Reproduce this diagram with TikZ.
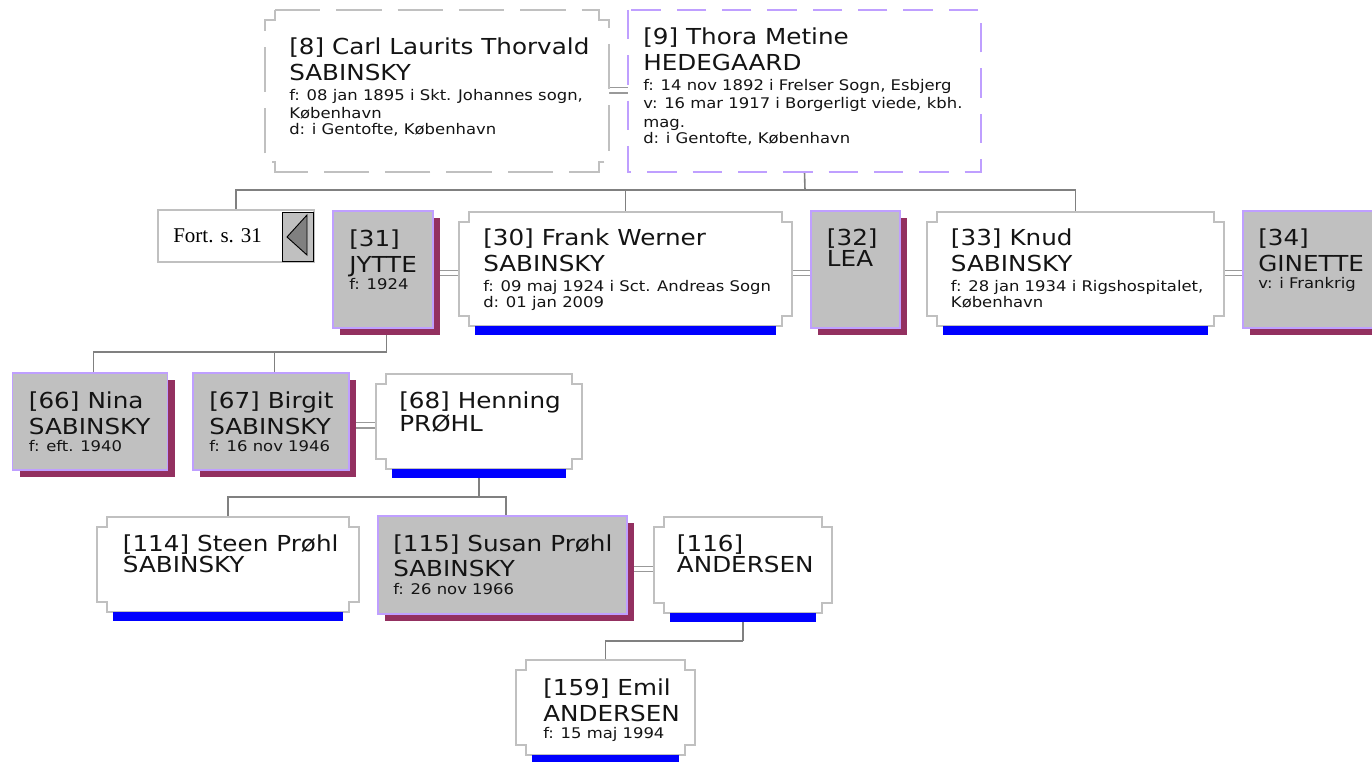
\documentclass[tikz,border=0pt]{standalone}
\usepackage{fontspec}
\usetikzlibrary{calc,fit}
\newfontfamily\pf[FakeStretch=1.12]{DejaVu Sans}
\newfontfamily\fortfont{Liberation Serif}
\newcommand\pbig{\pf\fontsize{16.5pt}{18.9pt}\selectfont\spaceskip=6pt\relax}
\newcommand\psmall{\pf\fontsize{11pt}{14pt}\selectfont\spaceskip=0pt\relax}
\definecolor{txt}{HTML}{141414}
\definecolor{bordergray}{HTML}{C0C0C0}
\definecolor{lav}{HTML}{BF9FFF}
\definecolor{fillgray}{HTML}{C0C0C0}
\definecolor{shadowc}{HTML}{933060}
\definecolor{conngray}{HTML}{808080}
\definecolor{marrgray}{HTML}{999999}
\definecolor{barblue}{HTML}{0000FF}
\definecolor{trigray}{HTML}{808080}
\tikzset{
  area/.style={inner sep=0pt, outer sep=0pt},
  ptext/.style={anchor=base west, inner sep=0pt, text width=330pt, align=left, text=txt},
  conn/.style={draw=conngray, line width=1.2pt},
  marr/.style={draw=marrgray, line width=0.8pt, double=white, double distance=3pt},
  notchline/.style={draw=bordergray, line width=1pt, fill=white},
  graybox/.style={draw=lav, line width=0.9pt, fill=fillgray},
}
\newcommand\notchshape[2]{\path[#2] ($(#1.north west)+(10,0)$) -- ($(#1.north east)+(-10,0)$) -- ++(0,10) -- ++(10,0) -- ($(#1.south east)+(0,-10)$) -- ++(-10,0) -- ++(0,10) -- ($(#1.south west)+(10,0)$) -- ++(0,-10) -- ++(-10,0) -- ($(#1.north west)+(0,10)$) -- ++(10,0) -- cycle;}
\newcommand\shadowedbox[1]{\fill[shadowc] ($(#1.north west)+(7,7)$) rectangle ($(#1.south east)+(7,7)$);
  \path[graybox] (#1.north west) rectangle (#1.south east);}
\newcommand\bluebar[1]{\fill[barblue] ($(#1.south west)+(16,0)$) rectangle ($(#1.south east)+(-16,9)$);}
\begin{document}
\begin{tikzpicture}[x=0.75pt,y=-0.75pt]
\useasboundingbox[fill=white] (0,0) rectangle (1372,762);
% areas of the persons
\node[area, fit={(265,10)(609,172)}] (p8) {};
\node[area, fit={(628,10)(981,172)}] (p9) {};
\node[area, fit={(158,210)(314,262)}] (fort) {};
\node[area, fit={(282,212)(313,261)}] (fortbtn) {};
\node[area, fit={(333,211)(433,328)}] (p31) {};
\node[area, fit={(459,212)(792,326)}] (p30) {};
\node[area, fit={(811,211)(900,328)}] (p32) {};
\node[area, fit={(927,212)(1224,326)}] (p33) {};
\node[area, fit={(1243,211)(1390,328)}] (p34) {};
\node[area, fit={(12.6,373)(167.6,470)}] (p66) {};
\node[area, fit={(193,373)(349,470)}] (p67) {};
\node[area, fit={(376,374)(582,469)}] (p68) {};
\node[area, fit={(97,517)(359,612)}] (p114) {};
\node[area, fit={(378,516)(627,614)}] (p115) {};
\node[area, fit={(654,517)(832,613)}] (p116) {};
\node[area, fit={(516,660)(695,755)}] (p159) {};
% descent connectors
\coordinate (j1) at (805,190);
\draw[conn] (p9.south) -- (j1);
\draw[conn] (fort.north) |- (p33.north |- j1) -- (p33.north);
\draw[conn] (p30.north) -- (p30.north |- j1);
\coordinate (c31) at ($(p31.south)+(3.5,7)$);
\coordinate (j2) at (386.5,352);
\coordinate (c66) at ($(p66.north)+(3.5,0)$);
\coordinate (c67) at ($(p67.north)+(3.5,0)$);
\draw[conn] (c31) -- (j2);
\draw[conn] (c66) |- (j2);
\draw[conn] (c67) -- (c67 |- j2);
\coordinate (j3) at (479,497);
\coordinate (c115) at ($(p115.north)+(3.5,0)$);
\draw[conn] (p68.south) -- (p68.south |- j3);
\draw[conn] (p114.north) |- (c115 |- j3) -- (c115);
\coordinate (j4) at (743,641);
\draw[conn] (p116.south) -- (p116.south |- j4);
\draw[conn] (p159.north) |- (j4);
% marriage connectors
\draw[marr] (p8.east |- 0,90.5) -- (p9.west |- 0,90.5);
\draw[marr] (p31.east |- 0,273) -- (p30.west |- 0,273);
\draw[marr] (p30.east |- 0,273) -- (p32.west |- 0,273);
\draw[marr] (p33.east |- 0,272.7) -- (p34.west |- 0,272.7);
\draw[marr] (p67.east |- 0,425.5) -- (p68.west |- 0,425.5);
\draw[marr] (p115.east |- 0,569) -- (p116.west |- 0,569);
% boxes
\notchshape{p8}{notchline, dash pattern=on 34pt off 12pt}
\path[draw=lav, line width=0.9pt, fill=white, dash pattern=on 22pt off 12pt] (p9.north west) rectangle (p9.south east);
\path[draw=bordergray, line width=1.1pt, fill=white] (fort.north west) rectangle (fort.south east);
\path[draw=black, line width=0.7pt, fill=fillgray] (fortbtn.north west) rectangle (fortbtn.south east);
\filldraw[fill=trigray, draw=black, line width=0.7pt] (287,237) -- (307,215) -- (307,255) -- cycle;
\shadowedbox{p31}
\notchshape{p30}{notchline}\bluebar{p30}
\shadowedbox{p32}
\notchshape{p33}{notchline}\bluebar{p33}
\shadowedbox{p34}
\shadowedbox{p66}
\shadowedbox{p67}
\notchshape{p68}{notchline}\bluebar{p68}
\notchshape{p114}{notchline}\bluebar{p114}
\shadowedbox{p115}
\notchshape{p116}{notchline}\bluebar{p116}
\notchshape{p159}{notchline}\bluebar{p159}
% texts
\node[ptext] (t8) at (289,55) {\pbig [8] Carl Laurits Thorvald\\SABINSKY\par\psmall\vspace{1pt}f: 08 jan 1895 i Skt. Johannes sogn,\\København\\d: i Gentofte, København};
\node[ptext] (t9) at (643,45) {\pbig [9] Thora Metine\\HEDEGAARD\par\psmall\vspace{1pt}f: 14 nov 1892 i Frelser Sogn, Esbjerg\\v: 16 mar 1917 i Borgerligt viede, kbh.\\mag.\\d: i Gentofte, København};
\node[anchor=base west, inner sep=0pt, text=black, font=\fortfont\fontsize{15.75pt}{18pt}\selectfont] (tfort) at (173,243) {Fort. s. 31};
\node[ptext] (t31) at (349,247) {\pbig [31]\\JYTTE\par\psmall\vspace{1pt}f: 1924};
\node[ptext] (t30) at (483,246) {\pbig [30] Frank Werner\\SABINSKY\par\psmall\vspace{1pt}f: 09 maj 1924 i Sct. Andreas Sogn\\d: 01 jan 2009};
\node[ptext] (t32) at (826.7,246) {\pbig [32]\\LEA};
\node[ptext] (t33) at (950.7,246) {\pbig [33] Knud\\SABINSKY\par\psmall\vspace{1pt}f: 28 jan 1934 i Rigshospitalet,\\København};
\node[ptext] (t34) at (1258,246) {\pbig [34]\\GINETTE\par\psmall\vspace{1pt}v: i Frankrig};
\node[ptext] (t66) at (28.7,409) {\pbig [66] Nina\\SABINSKY\par\psmall\vspace{1pt}f: eft. 1940};
\node[ptext] (t67) at (209,409) {\pbig [67] Birgit\\SABINSKY\par\psmall\vspace{1pt}f: 16 nov 1946};
\node[ptext] (t68) at (399,409) {\pbig [68] Henning\\PRØHL};
\node[ptext] (t114) at (122.7,551.7) {\pbig [114] Steen Prøhl\\SABINSKY};
\node[ptext] (t115) at (393,551.7) {\pbig [115] Susan Prøhl\\SABINSKY\par\psmall\vspace{1pt}f: 26 nov 1966};
\node[ptext] (t116) at (676.7,551.7) {\pbig [116]\\ANDERSEN};
\node[ptext] (t159) at (543,696) {\pbig [159] Emil\\ANDERSEN\par\psmall\vspace{1pt}f: 15 maj 1994};
\end{tikzpicture}
\end{document}
